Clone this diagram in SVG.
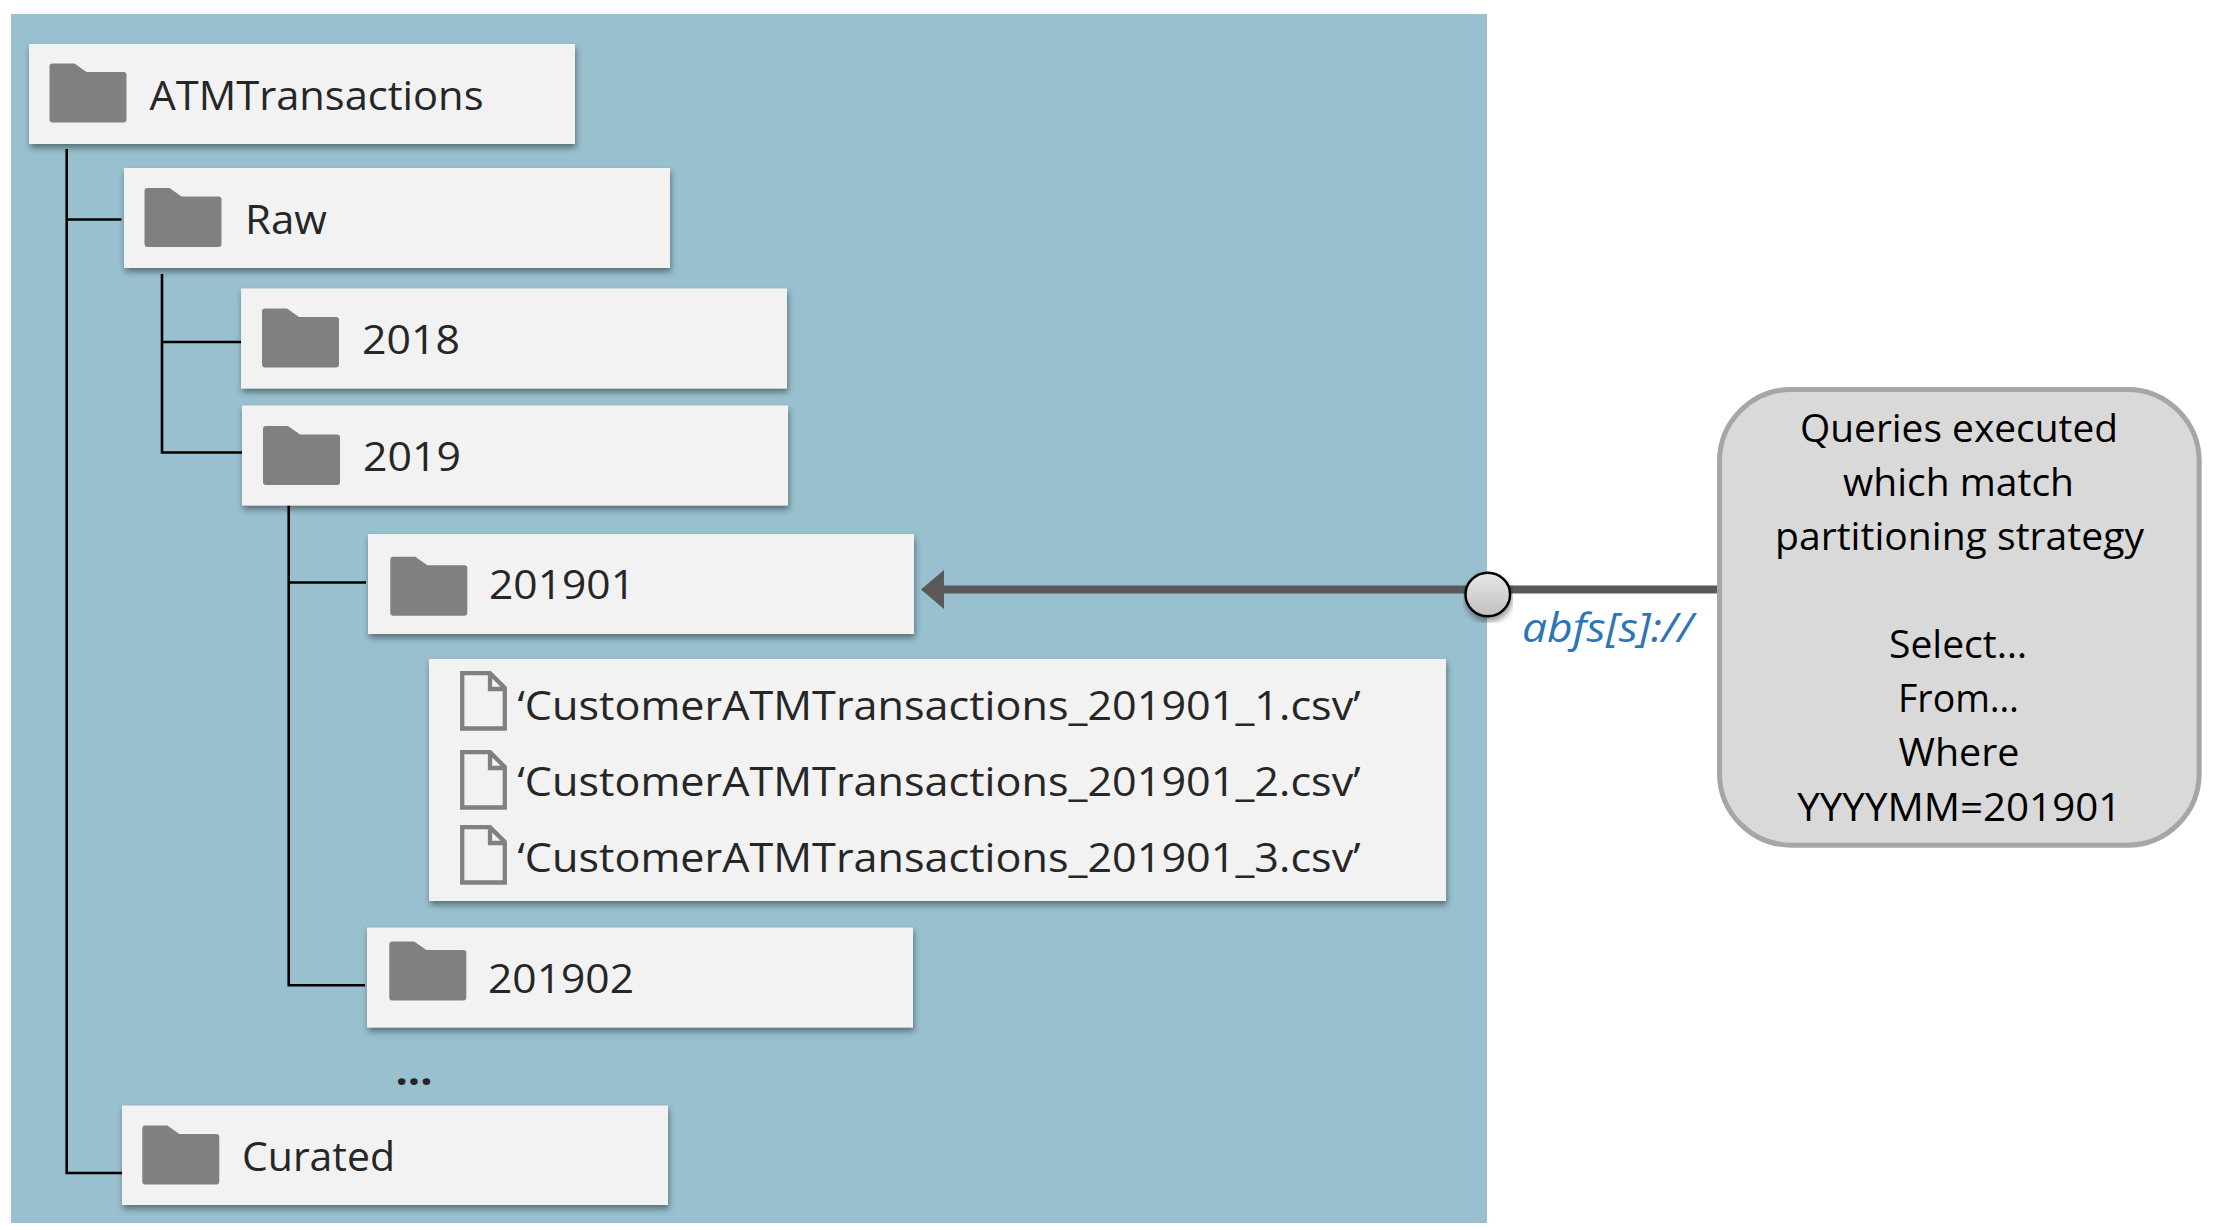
<svg xmlns="http://www.w3.org/2000/svg" width="2218" height="1230" viewBox="0 0 2218 1230">
<style>
.box{fill:#f2f2f2;filter:url(#sh)}
.t{font-family:"Open Sans","Liberation Sans",sans-serif;font-size:40.5px;fill:#262626}
.q{font-family:"Open Sans","Liberation Sans",sans-serif;font-size:38.5px;fill:#000}
.l{stroke:#000;stroke-width:2.6;fill:none}
</style>
<defs>
<filter id="sh" x="-5%" y="-10%" width="110%" height="125%"><feDropShadow dx="1" dy="4" stdDeviation="3" flood-color="#000" flood-opacity="0.42"/></filter>
<linearGradient id="g" x1="0" y1="0" x2="0" y2="1"><stop offset="0" stop-color="#e8e8e8"/><stop offset="1" stop-color="#bfbfbf"/></linearGradient>
<marker id="ah" markerUnits="userSpaceOnUse" markerWidth="23" markerHeight="39" refX="4" refY="19.5" orient="auto"><path d="M23,19.5 L0,0 V39 Z" fill="#595959"/></marker>
<path id="folder" fill="#808080" d="M3,0 H25 L37,8.5 H74 a3,3 0 0 1 3,3 V56 a3,3 0 0 1 -3,3 H3 a3,3 0 0 1 -3,-3 V3 a3,3 0 0 1 3,-3 Z"/>
<path id="file" fill="none" stroke="#808080" stroke-width="4.3" d="M462.2,672.2 H490 L504.8,687 V727.5 H462.2 Z M490,672.2 V688 H504.8"/>
</defs>
<rect id="panel" x="11" y="14" width="1476" height="1209" fill="#99c0ce"/>
<g id="connectors">
<path class="l" d="M66.7,149 V1173 H122 M66.7,219.5 H121.5"/>
<path class="l" d="M162,274 V452.5 H242 M162,342 H241"/>
<path class="l" d="M288.7,505 V985.3 H365 M288.7,582.5 H366"/>
<line x1="1718" y1="589.5" x2="940" y2="589.5" stroke="#595959" stroke-width="7.8" marker-end="url(#ah)"/>
</g>
<g id="node-atm"><rect class="box" x="29" y="44" width="546" height="100"/><use href="#folder" x="49.5" y="63.5"/><text class="t" x="149.5" y="109.5" textLength="334" lengthAdjust="spacingAndGlyphs">ATMTransactions</text></g>
<g id="node-raw"><rect class="box" x="124" y="168" width="546" height="100"/><use href="#folder" x="144.5" y="188"/><text class="t" x="245" y="233.5" textLength="82" lengthAdjust="spacingAndGlyphs">Raw</text></g>
<g id="node-2018"><rect class="box" x="241" y="288.5" width="546" height="100"/><use href="#folder" x="262" y="308.5"/><text class="t" x="362" y="354" textLength="98" lengthAdjust="spacingAndGlyphs">2018</text></g>
<g id="node-2019"><rect class="box" x="242" y="405.5" width="546" height="100"/><use href="#folder" x="263" y="426"/><text class="t" x="363" y="471" textLength="98" lengthAdjust="spacingAndGlyphs">2019</text></g>
<g id="node-201901"><rect class="box" x="368" y="534" width="546" height="100"/><use href="#folder" x="390.3" y="556.8"/><text class="t" x="489" y="598.8" textLength="146" lengthAdjust="spacingAndGlyphs">201901</text></g>
<g id="node-files"><rect class="box" x="429" y="659" width="1017" height="242"/>
<g transform="translate(0,1)"><use href="#file"/><use href="#file" y="79"/><use href="#file" y="154"/></g>
<text class="t" x="517.5" y="719.5" textLength="843" lengthAdjust="spacingAndGlyphs">‘CustomerATMTransactions_201901_1.csv’</text>
<text class="t" x="517.5" y="795.5" textLength="843" lengthAdjust="spacingAndGlyphs">‘CustomerATMTransactions_201901_2.csv’</text>
<text class="t" x="517.5" y="871.5" textLength="843" lengthAdjust="spacingAndGlyphs">‘CustomerATMTransactions_201901_3.csv’</text></g>
<g id="node-201902"><rect class="box" x="367" y="927.5" width="546" height="100"/><use href="#folder" x="389.3" y="941.5"/><text class="t" x="488" y="993" textLength="146" lengthAdjust="spacingAndGlyphs">201902</text></g>
<text class="t" x="395.5" y="1084.5" textLength="37" lengthAdjust="spacingAndGlyphs" font-weight="700">...</text>
<g id="node-curated"><rect class="box" x="122" y="1105.5" width="546" height="99.5"/><use href="#folder" x="142.3" y="1125.5"/><text class="t" x="242" y="1171" textLength="153" lengthAdjust="spacingAndGlyphs">Curated</text></g>
<g id="node-port"><ellipse cx="1487.8" cy="594.5" rx="22.3" ry="21.7" fill="url(#g)" stroke="#000" stroke-width="2.5" filter="url(#sh)"/></g>
<text x="1522" y="642" font-family="'Open Sans','Liberation Sans',sans-serif" font-size="39.5" font-style="italic" fill="#2e75b6" textLength="171" lengthAdjust="spacingAndGlyphs">abfs[s]://</text>
<g id="node-query"><rect x="1719.5" y="389.5" width="479.7" height="455.7" rx="72" ry="72" fill="#d9d9d9" stroke="#a6a6a6" stroke-width="5"/>
<text class="q" x="1800" y="442" textLength="318" lengthAdjust="spacingAndGlyphs">Queries executed</text>
<text class="q" x="1843" y="496" textLength="231" lengthAdjust="spacingAndGlyphs">which match</text>
<text class="q" x="1775" y="549.5" textLength="369" lengthAdjust="spacingAndGlyphs">partitioning strategy</text>
<text class="q" x="1889" y="657.7" textLength="138" lengthAdjust="spacingAndGlyphs">Select…</text>
<text class="q" x="1898" y="712" textLength="121" lengthAdjust="spacingAndGlyphs">From…</text>
<text class="q" x="1898.5" y="766" textLength="121" lengthAdjust="spacingAndGlyphs">Where</text>
<text class="q" x="1797.3" y="820.5" textLength="324" lengthAdjust="spacingAndGlyphs">YYYYMM=201901</text></g>
</svg>
